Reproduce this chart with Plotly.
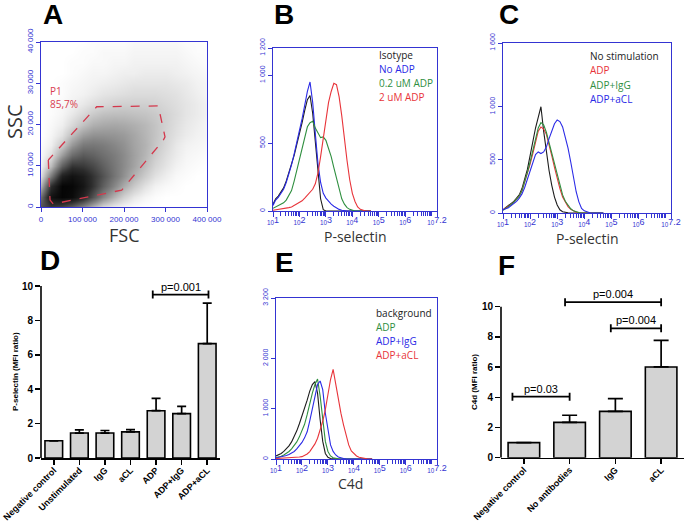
import math
import plotly.graph_objects as go

W, H = 689, 523

# ---------------- Panel A : FSC / SSC dot plot (relative dot density) ----
fsc_bins = [0, 25000, 50000, 75000, 100000, 125000, 150000, 175000, 200000,
            225000, 250000, 275000, 300000, 325000, 350000, 375000, 400000]
ssc_bins = [0, 2500, 5000, 7500, 10000, 12500, 15000, 17500, 20000,
            22500, 25000, 27500, 30000, 32500, 35000, 37500, 40000]
density = [
    [0.6, 0.7, 0.65, 0.55, 0.4, 0.25, 0.12, 0.06, 0.03, 0.01, 0, 0, 0, 0, 0, 0, 0],
    [0.5, 0.9, 0.97, 0.94, 0.8, 0.6, 0.4, 0.25, 0.14, 0.07, 0.03, 0.01, 0, 0, 0, 0, 0],
    [0.25, 0.75, 0.97, 0.96, 0.88, 0.72, 0.55, 0.4, 0.27, 0.17, 0.09, 0.04, 0.02, 0.01, 0, 0, 0],
    [0.1, 0.45, 0.82, 0.9, 0.84, 0.72, 0.6, 0.47, 0.36, 0.25, 0.16, 0.09, 0.05, 0.02, 0.01, 0, 0],
    [0.04, 0.22, 0.55, 0.72, 0.7, 0.64, 0.55, 0.46, 0.38, 0.3, 0.21, 0.13, 0.08, 0.04, 0.02, 0.01, 0],
    [0.02, 0.1, 0.32, 0.5, 0.57, 0.54, 0.49, 0.44, 0.38, 0.31, 0.24, 0.16, 0.1, 0.06, 0.03, 0.02, 0.01],
    [0.01, 0.05, 0.17, 0.34, 0.45, 0.46, 0.44, 0.4, 0.36, 0.3, 0.25, 0.18, 0.12, 0.07, 0.04, 0.03, 0.02],
    [0, 0.03, 0.09, 0.21, 0.32, 0.36, 0.36, 0.35, 0.33, 0.29, 0.24, 0.19, 0.13, 0.09, 0.06, 0.04, 0.03],
    [0, 0.02, 0.05, 0.12, 0.2, 0.26, 0.28, 0.29, 0.28, 0.26, 0.23, 0.19, 0.14, 0.1, 0.07, 0.05, 0.03],
    [0, 0.01, 0.03, 0.07, 0.12, 0.17, 0.2, 0.21, 0.21, 0.2, 0.19, 0.17, 0.14, 0.11, 0.08, 0.06, 0.04],
    [0, 0.01, 0.02, 0.04, 0.07, 0.1, 0.12, 0.14, 0.15, 0.15, 0.15, 0.14, 0.12, 0.1, 0.08, 0.06, 0.04],
    [0, 0, 0.01, 0.03, 0.04, 0.06, 0.08, 0.09, 0.1, 0.11, 0.11, 0.11, 0.1, 0.09, 0.07, 0.05, 0.03],
    [0, 0, 0.01, 0.02, 0.03, 0.04, 0.05, 0.06, 0.07, 0.08, 0.08, 0.08, 0.08, 0.07, 0.06, 0.04, 0.03],
    [0, 0, 0, 0.01, 0.02, 0.03, 0.03, 0.04, 0.05, 0.05, 0.06, 0.06, 0.06, 0.05, 0.04, 0.03, 0.02],
    [0, 0, 0, 0.01, 0.01, 0.02, 0.02, 0.03, 0.03, 0.04, 0.04, 0.04, 0.04, 0.04, 0.03, 0.02, 0.01],
    [0, 0, 0, 0, 0.01, 0.01, 0.02, 0.02, 0.02, 0.03, 0.03, 0.03, 0.03, 0.03, 0.02, 0.01, 0.01],
    [0, 0, 0, 0, 0, 0.01, 0.01, 0.01, 0.01, 0.02, 0.02, 0.02, 0.02, 0.02, 0.01, 0.01, 0],
]
gate_fsc = [17600, 21700, 29600, 194500, 294700, 298800, 282600, 134200, 17600]
gate_ssc = [11400, 1700, 730, 4100, 16200, 17000, 24500, 24300, 11400]
a_xticks = [0, 100000, 200000, 300000, 400000]
a_xtext = ["0", "100 000", "200 000", "300 000", "400 000"]
a_yticks = [0, 10000, 20000, 30000, 40000]
a_ytext = ["0", "10 000", "20 000", "30 000", "40 000"]

# ---------------- Histograms (x = log10 fluorescence, y = counts) ----------------
log_fluor = [1.0, 1.1, 1.2, 1.3, 1.4, 1.5, 1.6, 1.7, 1.8, 1.9,
             2.0, 2.1, 2.2, 2.3, 2.4, 2.5, 2.6, 2.7, 2.8, 2.9,
             3.0, 3.1, 3.2, 3.3, 3.4, 3.5, 3.6, 3.7, 3.8, 3.9,
             4.0, 4.1, 4.2, 4.3, 4.4, 4.5, 4.6, 4.7]
b_isotype = [50, 90, 110, 140, 170, 220, 280, 340, 410, 490,
             560, 650, 740, 820, 850, 720, 510, 300, 90, 10,
             0, 0, 0, 0, 0, 0, 0, 0, 0, 0, 0, 0, 0, 0, 0, 0, 0, 0]
b_no_adp = [40, 80, 100, 130, 160, 210, 270, 340, 420, 500,
            580, 680, 780, 880, 950, 800, 570, 350, 210, 130,
            95, 70, 50, 35, 22, 12, 6, 2, 0, 0, 0, 0, 0, 0, 0, 0, 0, 0]
b_adp_02 = [20, 30, 40, 50, 60, 80, 110, 150, 220, 300,
            380, 460, 560, 620, 650, 660, 610, 570, 540, 545,
            520, 460, 400, 320, 240, 160, 90, 50, 25, 12, 5, 0, 0, 0, 0, 0, 0, 0]
b_adp_2 = [5, 8, 10, 12, 15, 20, 25, 30, 40, 50,
           60, 75, 95, 115, 135, 160, 200, 280, 400, 530,
           660, 800, 880, 940, 930, 840, 700, 520, 370, 230,
           130, 70, 30, 12, 4, 0, 0, 0]
b_legend = ["Isotype", "No ADP", "0.2 uM ADP", "2 uM ADP"]

c_no_stim = [30, 50, 70, 90, 110, 140, 170, 230, 320, 410,
             540, 680, 800, 900, 1000, 770, 580, 400, 260, 150,
             75, 30, 12, 5, 2, 0, 0, 0, 0, 0, 0, 0, 0, 0, 0, 0, 0, 0]
c_adp = [30, 45, 60, 80, 100, 130, 160, 210, 290, 370,
         460, 560, 670, 770, 810, 790, 740, 650, 540, 430,
         320, 230, 150, 100, 60, 35, 18, 8, 3, 0, 0, 0, 0, 0, 0, 0, 0, 0]
c_adp_igg = [25, 40, 60, 80, 100, 130, 160, 210, 290, 380,
             480, 590, 700, 800, 850, 830, 760, 660, 560, 460,
             350, 250, 170, 110, 70, 40, 20, 10, 4, 0, 0, 0, 0, 0, 0, 0, 0, 0]
c_adp_acl = [30, 40, 50, 70, 90, 110, 140, 180, 240, 320,
             400, 480, 550, 575, 560, 575, 620, 700, 765, 840,
             875, 860, 810, 720, 610, 480, 340, 200, 105, 42,
             20, 8, 3, 0, 0, 0, 0, 0]
c_legend = ["No stimulation", "ADP", "ADP+IgG", "ADP+aCL"]

e_background = [60, 80, 110, 150, 200, 260, 340, 440, 560, 700,
                850, 990, 1170, 1350, 1480, 1540, 1310, 780, 350, 110,
                35, 10, 3, 0, 0, 0, 0, 0, 0, 0, 0, 0, 0, 0, 0, 0, 0, 0]
e_adp = [30, 40, 55, 80, 110, 150, 200, 260, 340, 440,
         550, 690, 880, 1110, 1310, 1480, 1590, 1250, 780, 350,
         150, 60, 25, 10, 4, 0, 0, 0, 0, 0, 0, 0, 0, 0, 0, 0, 0, 0]
e_adp_igg = [20, 30, 40, 55, 70, 90, 120, 150, 200, 260,
             330, 420, 540, 760, 1000, 1280, 1480, 1550, 1380, 910,
             550, 280, 150, 80, 40, 20, 10, 5, 0, 0, 0, 0, 0, 0, 0, 0, 0, 0]
e_adp_acl = [10, 12, 15, 18, 20, 22, 25, 30, 35, 40,
             47, 70, 100, 147, 213, 300, 413, 580, 750, 980,
             1280, 1580, 1780, 1480, 1180, 910, 680, 450, 280, 160,
             100, 60, 35, 20, 10, 5, 0, 0]
e_legend = ["background", "ADP", "ADP+IgG", "ADP+aCL"]

hist_xticks = [1, 2, 3, 4, 5, 6, 7.2]
hist_xexp = ["1", "2", "3", "4", "5", "6", "7.2"]
b_yticks, b_ytext = [0, 500, 1000, 1200], ["0", "500", "1 000", "1 200"]
c_yticks, c_ytext = [0, 500, 1000, 1600], ["0", "500", "1 000", "1 600"]
e_yticks, e_ytext = [0, 1000, 2000, 3200], ["0", "1 000", "2 000", "3 200"]

# ---------------- Bar charts ----------------
d_cats = ["Negative control", "Unstimulated", "IgG", "aCL", "ADP", "ADP+IgG", "ADP+aCL"]
d_mean = [1.0, 1.45, 1.45, 1.52, 2.75, 2.58, 6.65]
d_err = [0, 0.18, 0.15, 0.13, 0.72, 0.42, 2.35]
d_sig = [(3.87, 6.05, 9.5, "p=0.001")]

f_cats = ["Negative control", "No antibodies", "IgG", "aCL"]
f_mean = [1.0, 2.34, 3.07, 6.01]
f_err = [0, 0.47, 0.84, 1.76]
f_sig = [(-0.25, 1.0, 4.04, "p=0.03"), (0.9, 3.0, 10.3, "p=0.004"), (1.9, 3.0, 8.57, "p=0.004")]

bar_ticks = [0, 2, 4, 6, 8, 10]

# ---------------- styling ----------------
BL = "#3434d2"
C_BLACK = "#1c1c1c"
C_BLUE = "#2a2ae6"
C_GREEN = "#2f8f3f"
C_RED = "#e8343a"
HFONT = "Open Sans"
AFONT = "Liberation Sans"


def X(p):
    return p / W


def Y(p):
    return 1 - p / H


def dom_x(a, b):
    return [X(a), X(b)]


def dom_y(top, bottom):
    return [Y(bottom), Y(top)]


fig = go.Figure()
annotations = []
shapes = []


def label(xp, yp, text, size, color="black", family=AFONT, xanchor="center",
          yanchor="middle", angle=0, weight="normal"):
    annotations.append(dict(x=X(xp), y=Y(yp), xref="paper", yref="paper", text=text,
                            showarrow=False, xanchor=xanchor, yanchor=yanchor,
                            textangle=angle,
                            font=dict(size=size, color=color, family=family, weight=weight)))


# ----- Panel A -----
fig.add_trace(go.Heatmap(x=fsc_bins, y=ssc_bins, z=density, zsmooth="best",
                         colorscale=[[0, "#ffffff"], [0.1, "#dedede"], [0.4, "#868686"],
                                     [0.75, "#2c2c2c"], [1, "#000000"]],
                         zmin=0, zmax=1, showscale=False, hoverinfo="skip",
                         xaxis="x", yaxis="y"))
fig.add_trace(go.Scatter(x=gate_fsc, y=gate_ssc, mode="lines",
                         line=dict(color="#d4384c", width=1.3, dash="dash"),
                         xaxis="x", yaxis="y", showlegend=False, hoverinfo="skip"))
annotations.append(dict(x=16900, y=30300, xref="x", yref="y", text="P1<br>85,7%",
                        showarrow=False, xanchor="left", yanchor="top", align="left",
                        font=dict(size=10, color="#d84050", family=HFONT)))


# ----- Histograms -----
def add_hist(xa, ya, series):
    for vals, col in series:
        fig.add_trace(go.Scatter(x=log_fluor, y=vals, mode="lines",
                                 line=dict(color=col, width=1.1),
                                 xaxis=xa, yaxis=ya, showlegend=False, hoverinfo="skip"))


add_hist("x2", "y2", [(b_isotype, C_BLACK), (b_no_adp, C_BLUE), (b_adp_02, C_GREEN), (b_adp_2, C_RED)])
add_hist("x3", "y3", [(c_no_stim, C_BLACK), (c_adp, C_RED), (c_adp_igg, C_GREEN), (c_adp_acl, C_BLUE)])
add_hist("x5", "y5", [(e_background, C_BLACK), (e_adp, C_GREEN), (e_adp_igg, C_BLUE), (e_adp_acl, C_RED)])


# ----- Bar charts -----
def add_bars(xa, ya, cats, mean, err, capw):
    fig.add_trace(go.Bar(x=cats, y=mean, width=0.69,
                         marker=dict(color="#d3d3d3", line=dict(color="black", width=1.6)),
                         error_y=dict(type="data", array=err, arrayminus=[0] * len(err),
                                      symmetric=False, color="black", thickness=1.7, width=capw),
                         xaxis=xa, yaxis=ya, showlegend=False, hoverinfo="skip"))


add_bars("x4", "y4", d_cats, d_mean, d_err, 4.5)
add_bars("x6", "y6", f_cats, f_mean, f_err, 7.5)


def add_sig(xa, ya, sigs):
    for x0, x1, yv, txt in sigs:
        shapes.append(dict(type="line", xref=xa, yref=ya, x0=x0, x1=x1, y0=yv, y1=yv,
                           line=dict(color="black", width=1.8)))
        for xe in (x0, x1):
            shapes.append(dict(type="line", xref=xa, yref=ya, x0=xe, x1=xe,
                               ysizemode="pixel", yanchor=yv, y0=-4, y1=4,
                               line=dict(color="black", width=1.8)))
        annotations.append(dict(x=(x0 + x1) / 2, y=yv, xref=xa, yref=ya, text=txt,
                                showarrow=False, xanchor="center", yanchor="bottom", yshift=0,
                                font=dict(size=11, color="black", family=AFONT)))
    shapes.append(dict(type="line", xref=xa + " domain", yref=ya, x0=0, x1=0, y0=0, y1=10,
                       line=dict(color="black", width=1.6)))


add_sig("x4", "y4", d_sig)
add_sig("x6", "y6", f_sig)

# ----- axes -----
minor_vals = [d + math.log10(k) for d in range(1, 7) for k in range(2, 10)] + [7.0]


def hist_axes(xdom, ydom, ymax, ytv, ytt, xname, yname):
    xa = dict(domain=xdom, anchor=yname, range=[1, 7.2], tickmode="array",
              tickvals=hist_xticks, ticktext=["<sub>10</sub>" + e for e in hist_xexp],
              ticks="outside", ticklen=5, tickcolor=BL, tickwidth=1,
              ticklabelstandoff=-5,
              showline=True, linecolor=BL, linewidth=1, mirror=True,
              showgrid=False, zeroline=False, automargin=False,
              tickfont=dict(size=9, color=BL, family=AFONT),
              minor=dict(tickmode="array", tickvals=minor_vals, ticks="outside",
                         ticklen=4, tickcolor=BL, tickwidth=1, showgrid=False))
    ya = dict(domain=ydom, anchor=xname, range=[0, ymax], tickmode="array",
              tickvals=ytv, ticktext=ytt, tickangle=-90,
              ticks="outside", ticklen=4, tickcolor=BL, tickwidth=1,
              showline=True, linecolor=BL, linewidth=1, mirror=True,
              showgrid=False, zeroline=False, automargin=False,
              tickfont=dict(size=7, color=BL, family=AFONT))
    return xa, ya


xa2, ya2 = hist_axes(dom_x(273, 437), dom_y(48, 211), 1200, b_yticks, b_ytext, "x2", "y2")
xa3, ya3 = hist_axes(dom_x(503, 671), dom_y(43, 213), 1600, c_yticks, c_ytext, "x3", "y3")
xa5, ya5 = hist_axes(dom_x(276, 437), dom_y(298, 459), 3200, e_yticks, e_ytext, "x5", "y5")

xa1 = dict(domain=dom_x(41, 207), anchor="y", range=[0, 400000], tickmode="array",
           tickvals=a_xticks, ticktext=a_xtext, ticks="outside", ticklen=4, tickcolor=BL,
           showline=True, linecolor=BL, linewidth=1, mirror=True, showgrid=False,
           zeroline=False, automargin=False, tickfont=dict(size=8, color=BL, family=AFONT))
ya1 = dict(domain=dom_y(42, 207), anchor="x", range=[0, 40000], tickmode="array",
           tickvals=a_yticks, ticktext=a_ytext, tickangle=-90, ticks="outside", ticklen=4,
           tickcolor=BL, showline=True, linecolor=BL, linewidth=1, mirror=True,
           showgrid=False, zeroline=False, automargin=False,
           tickfont=dict(size=8, color=BL, family=AFONT))


def bar_axes(xdom, ydom, ymax, ncat, xname, yname):
    xa = dict(domain=xdom, anchor=yname, type="category", range=[-0.5, ncat - 0.5],
              showline=True, linecolor="black", linewidth=1.6, ticks="outside",
              ticklen=5, tickwidth=1.5, tickcolor="black", tickangle=-45,
              ticklabelstandoff=-3,
              showgrid=False, zeroline=False, automargin=False,
              tickfont=dict(size=9, color="black", family=AFONT, weight="bold"))
    ya = dict(domain=ydom, anchor=xname, range=[0, ymax], tickmode="array",
              tickvals=bar_ticks, showline=False, ticks="outside", ticklen=5,
              tickwidth=1.5, tickcolor="black", showgrid=False, zeroline=False,
              automargin=False,
              tickfont=dict(size=10, color="black", family=AFONT, weight="bold"))
    return xa, ya


xa4, ya4 = bar_axes(dom_x(41, 220), dom_y(458 - 10.3 * 17.2, 458), 10.3, len(d_cats), "x4", "y4")
xa6, ya6 = bar_axes(dom_x(501, 684), dom_y(457.7 - 10.6 * 15.1, 457.7), 10.6, len(f_cats), "x6", "y6")

# ----- text labels -----
for letter, xp, yp in [("A", 53, 15), ("B", 284, 15), ("C", 509, 15),
                       ("D", 50, 260), ("E", 284.5, 262), ("F", 507, 265)]:
    label(xp, yp, letter, 28, weight="bold")

label(14, 122, "SSC", 20, color="#333333", family=HFONT, angle=-90)
label(124, 235, "FSC", 18, color="#333333", family=HFONT)
label(355, 237, "P-selectin", 14, color="#333333", family=HFONT)
label(587, 239, "P-selectin", 14, color="#333333", family=HFONT)
label(350, 483, "C4d", 14, color="#333333", family=HFONT)

for txt, col, yp in zip(b_legend, ["#222222", C_BLUE, C_GREEN, C_RED], [55, 69, 83, 97]):
    label(377, yp, txt, 10, color=col, family=HFONT, xanchor="left")
for txt, col, yp in zip(c_legend, ["#222222", C_RED, C_GREEN, C_BLUE], [56, 70, 85, 99]):
    label(588, yp, txt, 10, color=col, family=HFONT, xanchor="left")
for txt, col, yp in zip(e_legend, ["#222222", C_GREEN, C_BLUE, C_RED], [313, 327, 341, 355]):
    label(374, yp, txt, 10, color=col, family=HFONT, xanchor="left")

label(15, 372, "P-selectin (MFI ratio)", 8, angle=-90, weight="bold")
label(474, 382, "C4d (MFI ratio)", 8, angle=-90, weight="bold")

fig.update_layout(
    width=W, height=H, autosize=False,
    margin=dict(l=0, r=0, t=0, b=0, autoexpand=False),
    paper_bgcolor="white", plot_bgcolor="white",
    showlegend=False, hovermode=False,
    xaxis=xa1, yaxis=ya1, xaxis2=xa2, yaxis2=ya2, xaxis3=xa3, yaxis3=ya3,
    xaxis4=xa4, yaxis4=ya4, xaxis5=xa5, yaxis5=ya5, xaxis6=xa6, yaxis6=ya6,
    annotations=annotations, shapes=shapes,
)

fig.write_html("out.html",
               config={"staticPlot": True, "displayModeBar": False},
               post_script="document.body.style.margin='0';"
                           "document.body.style.overflow='hidden';")
